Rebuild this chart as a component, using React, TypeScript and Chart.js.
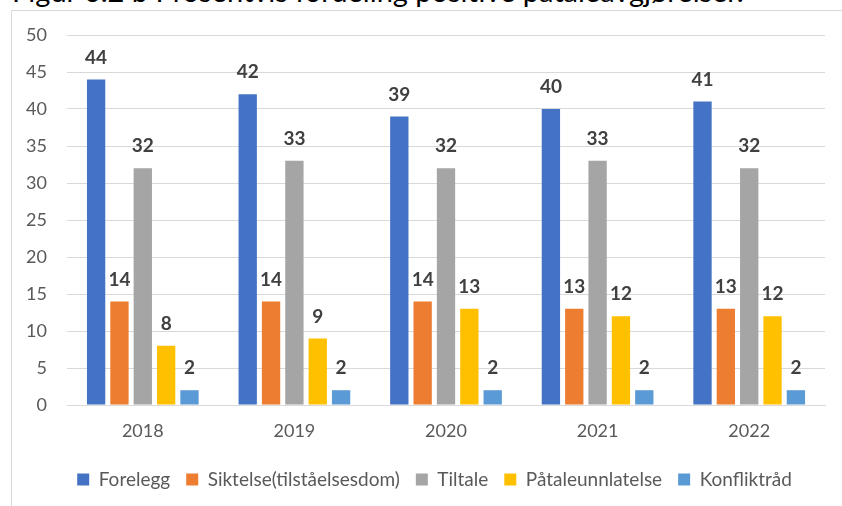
import React, { useEffect, useRef } from "react";
import { Chart, registerables } from "chart.js";

Chart.register(...registerables);

const titleText = "Figur 6.2 b Prosentvis fordeling positive påtaleavgjørelser.";
const categories = ["2018", "2019", "2020", "2021", "2022"];
const seriesNames = ["Forelegg", "Siktelse(tilståelsesdom)", "Tiltale", "Påtaleunnlatelse", "Konfliktråd"];
const forelegg = [44, 42, 39, 40, 41];
const siktelse = [14, 14, 14, 13, 13];
const tiltale = [32, 33, 32, 33, 32];
const paatale = [8, 9, 13, 12, 12];
const konfliktraad = [2, 2, 2, 2, 2];
const seriesColors = ["#4472C4", "#ED7D31", "#A5A5A5", "#FFC000", "#5B9BD5"];
const yTicks = [0, 5, 10, 15, 20, 25, 30, 35, 40, 45, 50];

const FONT = "Lato, 'Open Sans', sans-serif";
const LEGEND_CENTER_X = 434.5;

const valueLabels = {
  id: "valueLabels",
  afterDatasetsDraw(chart: any) {
    const ctx = chart.ctx;
    ctx.save();
    ctx.font = `bold 19px ${FONT}`;
    ctx.fillStyle = "#404040";
    ctx.textAlign = "center";
    ctx.textBaseline = "middle";
    chart.data.datasets.forEach((ds: any, i: number) => {
      const meta = chart.getDatasetMeta(i);
      meta.data.forEach((el: any, j: number) => {
        ctx.fillText(String(ds.data[j]), el.x, el.y - 22);
      });
    });
    ctx.restore();
  },
};

const legendShift = {
  id: "legendShift",
  afterLayout(chart: any) {
    const lg = chart.legend;
    if (!lg) return;
    const shift = LEGEND_CENTER_X - (lg.left + lg.right) / 2;
    lg.left += shift;
    lg.right += shift;
  },
};

export default function App() {
  const ref = useRef<HTMLCanvasElement>(null);
  useEffect(() => {
    if (!ref.current) return;
    const values = [forelegg, siktelse, tiltale, paatale, konfliktraad];
    const chart = new Chart(ref.current, {
      type: "bar",
      data: {
        labels: categories,
        datasets: seriesNames.map((name, i) => ({
          label: name,
          data: values[i],
          backgroundColor: seriesColors[i],
          borderWidth: 0,
          barPercentage: 0.785,
          categoryPercentage: 0.77,
        })),
      },
      options: {
        animation: false,
        responsive: false,
        maintainAspectRatio: false,
        devicePixelRatio: 1,
        layout: { padding: { top: 35, right: 17, left: 0, bottom: 7 } },
        plugins: {
          title: { display: false },
          tooltip: { enabled: false },
          legend: {
            display: true,
            position: "bottom",
            labels: {
              boxWidth: 12,
              boxHeight: 12,
              padding: 16,
              color: "#595959",
              font: { family: FONT, size: 19 },
            },
          },
        },
        scales: {
          x: {
            grid: { display: false, drawTicks: false },
            border: { display: true, color: "#D9D9D9", width: 1 },
            ticks: { color: "#595959", font: { family: FONT, size: 18 }, padding: 15 },
            afterFit: (s: any) => {
              s.height = 49;
            },
          },
          y: {
            min: 0,
            max: 50,
            afterBuildTicks: (s: any) => {
              s.ticks = yTicks.map((v) => ({ value: v }));
            },
            grid: { color: "#D9D9D9", lineWidth: 1, drawTicks: false },
            border: { display: false },
            ticks: { color: "#595959", font: { family: FONT, size: 18 }, padding: 20 },
            afterFit: (s: any) => {
              s.width = 67;
            },
          },
        },
      },
      plugins: [valueLabels, legendShift],
    });
    return () => chart.destroy();
  }, []);

  return (
    <div style={{ position: "absolute", left: 0, top: 0, width: 842, height: 506, overflow: "hidden", background: "#FFFFFF" }}>
      <div
        style={{
          position: "absolute",
          left: 12,
          top: -24,
          fontFamily: FONT,
          fontSize: 29,
          lineHeight: "29px",
          color: "#000000",
          whiteSpace: "nowrap",
        }}
      >
        {titleText}
      </div>
      <div
        style={{
          position: "absolute",
          left: 11,
          top: 10,
          width: 900,
          height: 600,
          border: "1px solid #D9D9D9",
        }}
      />
      <canvas ref={ref} width={842} height={506} style={{ position: "absolute", left: 0, top: 0, width: 842, height: 506 }} />
    </div>
  );
}
